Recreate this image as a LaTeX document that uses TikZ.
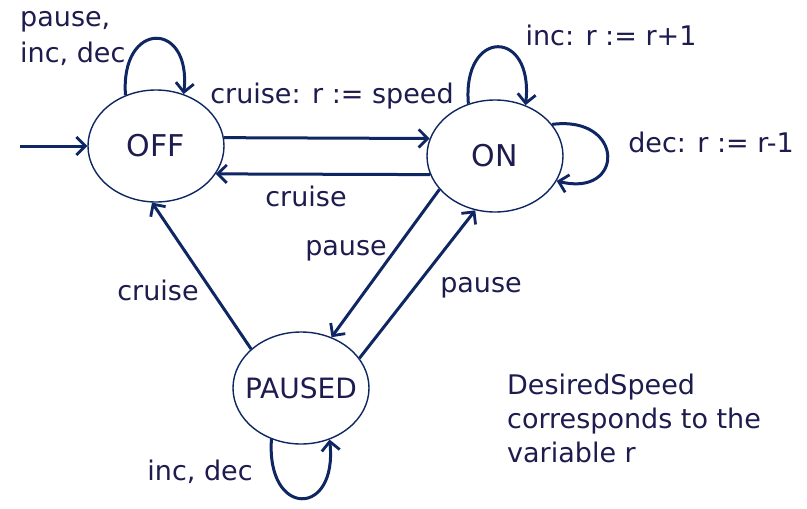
\documentclass[tikz,border=0pt]{standalone}
\usepackage{fontspec}
\setmainfont{DejaVu Sans}
\usetikzlibrary{shapes.geometric,arrows.meta}
\definecolor{linecol}{RGB}{14,38,98}
\definecolor{textcol}{RGB}{30,28,78}
\tikzset{
  state/.style={ellipse,draw=linecol,line width=1.4pt,minimum width=136pt,minimum height=112pt,inner sep=0pt,text=textcol,font=\fontsize{30}{36}\selectfont},
  edge/.style={draw=linecol,line width=3pt,-{Straight Barb[length=9pt,width=18pt,line width=2.8pt]}},
  lbl/.style={text=textcol,inner sep=0pt,font=\fontsize{27}{34}\selectfont}
}
\newcommand{\ctext}[1]{\makebox[0pt]{#1}}
\begin{document}
\begin{tikzpicture}[x=1pt,y=-1pt]
\useasboundingbox[fill=white] (0,0) rectangle (807,509);
\node[state] (OFF) at (156,146) {\ctext{OFF}};
\node[state] (ON) at (495,156) {\ctext{ON}};
\node[state,font=\fontsize{28}{34}\selectfont] (PAUSED) at (301,388) {\ctext{PAUSED}};
\coordinate (init) at (20,146);
% initial
\draw[edge] (init) -- (OFF.west);
% OFF <-> ON
\draw[edge] (OFF.7) -- (ON.165);
\draw[edge] (ON.196) -- (OFF.335);
% ON <-> PAUSED
\draw[edge] (ON.211) -- (PAUSED.59);
\draw[edge] (PAUSED.27) -- (ON.250);
% PAUSED -> OFF
\draw[edge] (PAUSED.142) -- (OFF.266);
% self loops
\draw[edge] (OFF.121) .. controls (120,20) and (192,20) .. (OFF.62);
\draw[edge] (ON.117) .. controls (462,28) and (534,28) .. (ON.59);
\draw[edge] (ON.29) .. controls (625,115) and (625,198) .. (ON.-22);
\draw[edge] (PAUSED.240) .. controls (266,518) and (338,518) .. (PAUSED.-61);
% labels
\node[lbl,anchor=base] (l1) at (332,103) {cruise: r := speed};
\node[lbl,anchor=base] (l2) at (306,206) {cruise};
\node[lbl,anchor=base west,align=left,font=\fontsize{27}{36}\selectfont] (l3) at (20,62) {pause,\\inc, dec};
\node[lbl,anchor=base] (l4) at (611,45) {inc: r := r+1};
\node[lbl,anchor=base] (l5) at (711,152) {dec: r := r-1};
\node[lbl,anchor=base] (l6) at (346,255) {pause};
\node[lbl,anchor=base] (l7) at (481,292) {pause};
\node[lbl,anchor=base] (l8) at (158,300) {cruise};
\node[lbl,anchor=base] (l9) at (200,480) {inc, dec};
\node[lbl,anchor=base west,align=left] (note) at (507,462) {DesiredSpeed\\corresponds to the\\variable r};
\end{tikzpicture}
\end{document}
